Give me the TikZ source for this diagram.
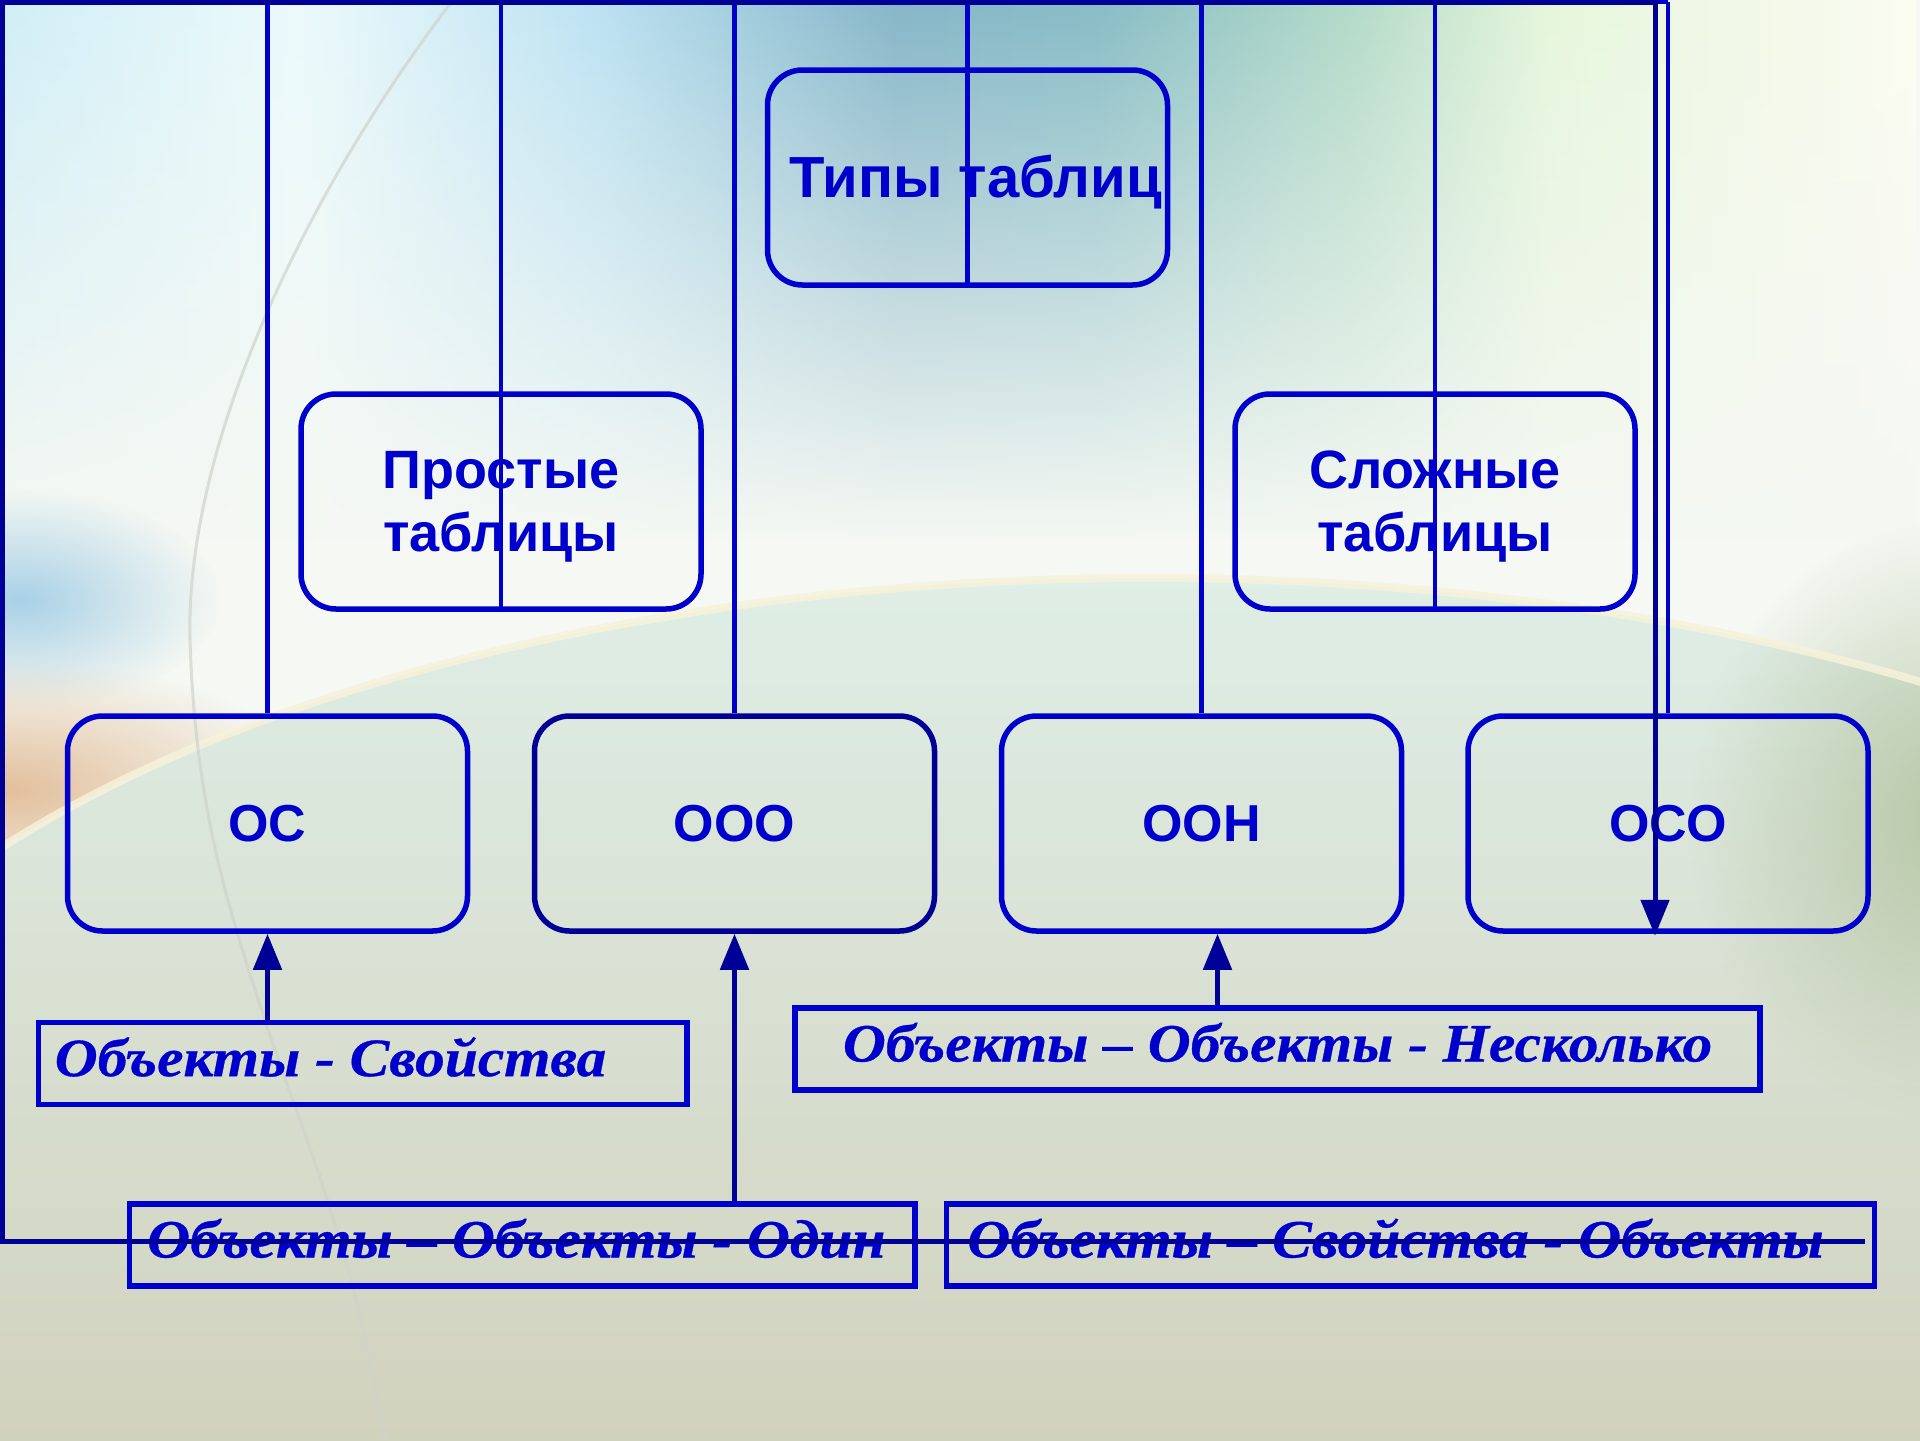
\documentclass[tikz,border=0pt]{standalone}
\usepackage{fontspec}
\newfontfamily\boxfont{Liberation Sans}
\newfontfamily\objfont[FakeStretch=1.1,BoldItalicFeatures={FakeBold=0.6}]{Liberation Serif}
\usetikzlibrary{arrows.meta,calc,fadings}
\definecolor{mblue}{RGB}{0,0,204}
\definecolor{dblue}{RGB}{0,0,150}
\definecolor{bgbase}{HTML}{F5F8F3}
\definecolor{c0}{HTML}{D0EEF6}
\definecolor{c1}{HTML}{ECFAFC}
\definecolor{c2}{HTML}{BCE2F2}
\definecolor{c3}{HTML}{86B6C8}
\definecolor{c4}{HTML}{88BCC6}
\definecolor{c5}{HTML}{B2DAC8}
\definecolor{c6}{HTML}{E6F6DC}
\definecolor{c7}{HTML}{FCFCF2}
\definecolor{ellt}{HTML}{DFEEE6}
\definecolor{ellm}{HTML}{D6D7C3}
\definecolor{ellb}{HTML}{CBC5AB}
\definecolor{leftblue}{HTML}{8CC2E2}
\definecolor{peach}{HTML}{E0B68E}
\definecolor{greenish}{HTML}{B2C29E}
\definecolor{arcline}{HTML}{F6F2DA}
\definecolor{faint}{HTML}{CFD3CB}
\pgfdeclarehorizontalshading{topband}{100bp}{color(0bp)=(c0); color(25bp)=(c0);
  color(32.8bp)=(c1); color(40.6bp)=(c2); color(48.4bp)=(c3); color(53.6bp)=(c4);
  color(60.2bp)=(c5); color(65.4bp)=(c6); color(75bp)=(c7); color(100bp)=(c7)}
\tikzfading[name=fadedown, top color=transparent!0, bottom color=transparent!100]
\tikzfading[name=fuzzy, inner color=transparent!15, outer color=transparent!100]
\newcommand\twoline[2]{\vbox{\hbox to 150pt{\hss#1\hss}\hbox to 150pt{\hss#2\hss}}}
\begin{document}
\begin{tikzpicture}[x=0.5pt,y=-0.5pt,
  rbox/.style={draw=mblue, line width=2.75pt, rounded corners=17.5pt,
    minimum width=200pt, minimum height=107.5pt, inner sep=0pt, text=mblue},
  bigtxt/.style={font={\boxfont\bfseries\fontsize{29pt}{34pt}\selectfont},
    text height=20pt, text depth=0pt},
  midtxt/.style={font={\boxfont\bfseries\fontsize{27pt}{31.5pt}\selectfont},
    text height=50.3pt, text depth=0pt},
  smalltxt/.style={font={\boxfont\bfseries\fontsize{26pt}{30pt}\selectfont},
    text height=17.9pt, text depth=0pt},
  itbox/.style={draw=mblue, line width=2.75pt, minimum height=41pt, inner sep=0pt,
    text=mblue, font={\objfont\bfseries\itshape\fontsize{27pt}{30pt}\selectfont},
    text height=12.5pt, text depth=0pt},
  conn/.style={draw=mblue, line width=2.25pt},
  arr/.style={draw=dblue, line width=2.5pt, -{Triangle[width=14pt,length=18pt]}},
  frame/.style={draw=dblue, line width=2.5pt, -{Triangle[width=14pt,length=18pt]}}
]
\useasboundingbox (0,0) rectangle (1920,1440);
% ---------------- background ----------------
\begin{scope}
\clip (0,0) rectangle (1920,1440);
\fill[bgbase] (0,0) rectangle (1920,1440);
\path[shading=topband, path fading=fadedown] (0,0) rectangle (1920,540);
\fill[leftblue, path fading=fuzzy, opacity=0.85] (20,600) ellipse (200 and 110);
\fill[peach, path fading=fuzzy] (10,790) ellipse (300 and 130);
\path[top color=ellt, middle color=ellm, bottom color=ellb] (1150,1208) ellipse (1400 and 630);
\fill[greenish, path fading=fuzzy] (1950,820) ellipse (260 and 300);
\draw[arcline, line width=4pt, opacity=0.85] (1150,1208) ellipse (1400 and 630);
\draw[faint, line width=1.5pt, opacity=0.7] (453,0) .. controls (300,200) and (185,450) .. (190,640)
   .. controls (195,800) and (225,900) .. (265,1020) .. controls (300,1130) and (350,1230) .. (385,1440);
\end{scope}
% ---------------- nodes ----------------
\node[rbox, bigtxt] (T) at (967.5,177.5) {\kern8pt Типы таблиц};
\node[rbox, midtxt] (PR) at (501,501.5) {\twoline{Простые}{таблицы}};
\node[rbox, midtxt] (SL) at (1435,501.5) {\twoline{Сложные}{таблицы}};
\node[rbox, smalltxt] (OC) at (267.5,823.5) {ОС};
\node[rbox, smalltxt, draw=dblue] (OOO) at (734.5,823.5) {ООО};
\node[rbox, smalltxt] (OON) at (1201.5,823.5) {ООН};
\node[rbox, smalltxt] (OSO) at (1668,823.5) {ОСО};
\node[itbox, minimum width=324.25pt] (p1) at (362.75,1063.6) {\hbox to 310pt{\kern1pt Объекты - Свойства\hss}};
\node[itbox, minimum width=482.5pt] (p2) at (1277.5,1049) {Объекты – Объекты - Несколько};
\node[itbox, minimum width=392.75pt] (p3) at (522.25,1245) {Объекты – Объекты - Один\kern6pt};
\node[itbox, minimum width=464pt] (p4) at (1410.5,1245) {Объекты – Свойства - Объекты\kern15pt};
% ---------------- connectors ----------------
\coordinate (ftl) at (2,2);
\coordinate (fbl) at (2,1241);
\coordinate (s4) at (1865,1241);
\coordinate (oonin) at ($(OON.south)+(16,0)$);
\coordinate (osoin) at ($(OSO.south)+(-13,2)$);
\draw[conn] (ftl -| OC.north) -- (ftl -| OSO.north);
\draw[conn] (ftl -| OC.north) -- (OC.north);
\draw[conn] (ftl -| PR.south) -- (PR.south);
\draw[conn] (ftl -| OOO.north) -- (OOO.north);
\draw[conn] (ftl -| T.south) -- (T.south);
\draw[conn] (ftl -| OON.north) -- (OON.north);
\draw[conn] (ftl -| SL.south) -- (SL.south);
\draw[conn] (ftl -| OSO.north) -- (OSO.north);
\draw[frame] (s4) -- (fbl) -- (ftl) -- (ftl -| osoin) -- (osoin);
\draw[arr] (p1.north -| OC.south) -- (OC.south);
\draw[arr] (p3.north -| OOO.south) -- (OOO.south);
\draw[arr] (p2.north -| oonin) -- (oonin);
\end{tikzpicture}
\end{document}
